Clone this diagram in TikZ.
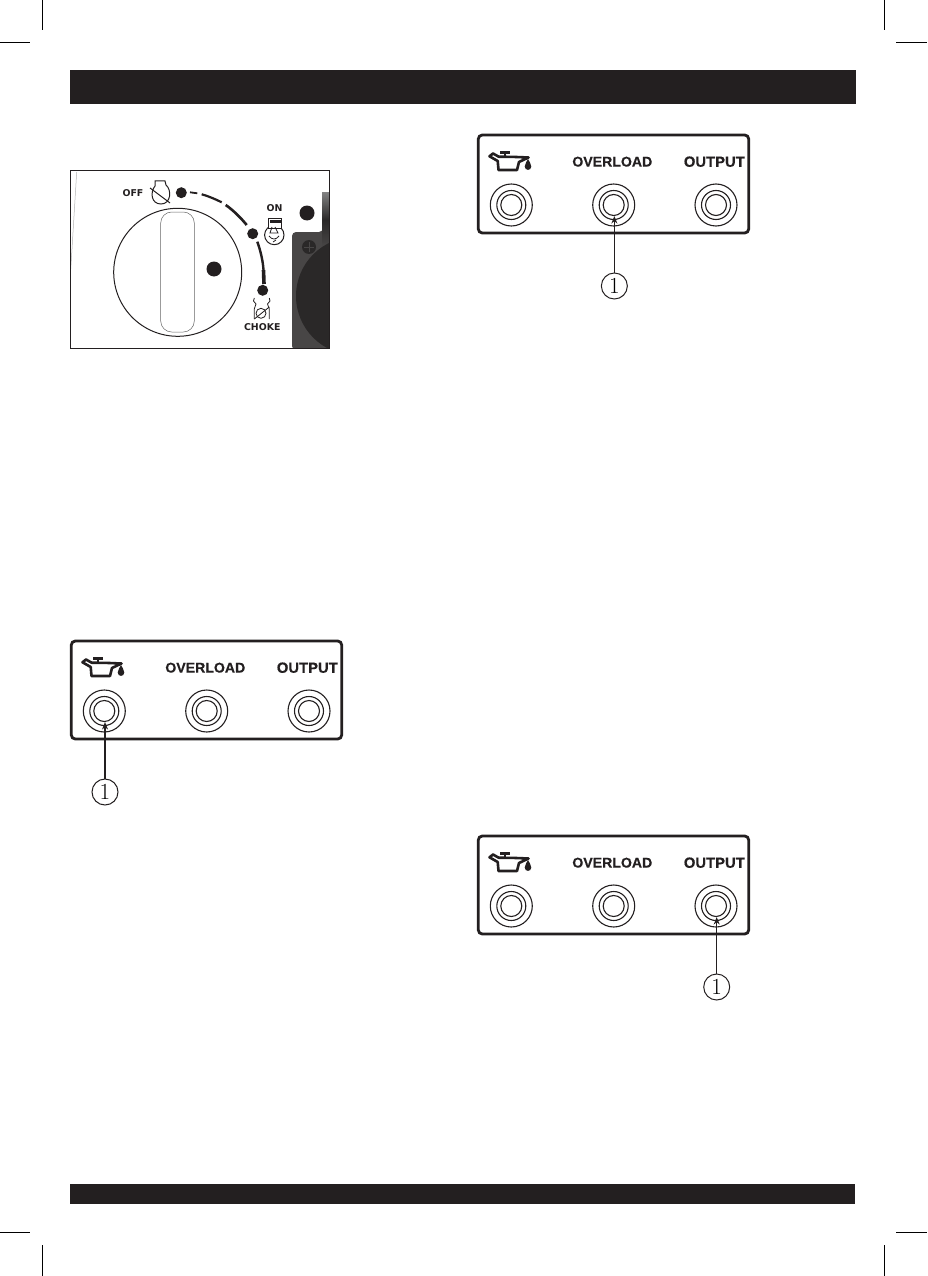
\documentclass[tikz,border=0pt]{standalone}
\usepackage{fontspec}
\usetikzlibrary{arrows.meta, positioning, calc}
\newfontfamily\panelfont{Liberation Sans Bold}[FakeBold=0.5]
\newfontfamily\dialfont{DejaVu Sans}[BoldFont={DejaVu Sans Bold}]
\definecolor{barblack}{RGB}{35, 31, 32}
\definecolor{housegray}{RGB}{72, 70, 70}
\definecolor{housedark}{RGB}{42, 40, 40}
\tikzset{
  cropmark/.style={line width=1pt, black},
  panelbox/.style={line width=2.8pt, draw=barblack, rounded corners=4pt},
  jackring/.style={circle, draw=barblack, line width=1.1pt, inner sep=0pt},
  panellabel/.style={font=\panelfont\fontsize{14.1}{16}\selectfont, text=barblack, inner sep=0pt},
  diallabel/.style={font=\dialfont\bfseries\fontsize{9.4}{11}\selectfont, text=barblack, inner sep=0pt},
  numtag/.style={circle, draw=barblack, line width=1pt, minimum size=26pt, inner sep=0pt, font=\fontsize{23}{25}\selectfont},
  dialdot/.style={circle, fill=barblack, inner sep=0pt},
  icon/.style={draw=barblack, line width=1pt}
}
\begin{document}
\begin{tikzpicture}[x=1pt, y=-1pt]
\useasboundingbox (0,0) rectangle (927,1276);

% Crop marks
\foreach \mx in {42.5,884.5} {
  \draw[cropmark] (\mx,0) -- (\mx,30);
  \draw[cropmark] (\mx,1245) -- (\mx,1276);
}
\foreach \my in {42.5,1232} {
  \draw[cropmark] (0,\my) -- (30,\my);
  \draw[cropmark] (896,\my) -- (927,\my);
}

% Header and footer bars
\fill[barblack] (70,70) rectangle (856,104);
\fill[barblack] (70,1184) rectangle (855,1204);

% Engine switch panel
\begin{scope}
\clip (70,171) rectangle (329,348);
\draw[gray!60, line width=0.5pt] (76.7,172) -- (70.7,270);
\fill[housegray, rounded corners=4pt] (292,350) -- (292,232) -- (323,232) -- (323,200) -- (340,200) -- (340,350) -- cycle;
\shade[top color=gray, bottom color=housegray, middle color=housedark] (322,193) rectangle (329,247);
\fill[housedark] (355,296) circle (59);
\fill[housedark] (309,247) circle (7);
\draw[housegray, line width=0.8pt] (304,247) -- (314,247) (309,242) -- (309,252);
\end{scope}
\draw[barblack, line width=1pt] (70,171) rectangle (329,348);

% Dial
\draw[barblack, line width=1pt] (177.7,272.3) circle (64);
\draw[gray!80!black, line width=0.5pt, rounded corners=11pt] (160.7,212) rectangle (194.3,332);
\node[dialdot, minimum size=15pt] (dialmark) at (214,269) {};
\node[dialdot, minimum size=15pt] (hole) at (307,213) {};
\node[dialdot, minimum size=11pt] (offdot) at (181.3,192.7) {};
\node[dialdot, minimum size=11pt] (ondot) at (252.7,233.7) {};
\node[dialdot, minimum size=11pt] (chokedot) at (262.7,290.3) {};

% Dial track
\draw[barblack, line width=1.8pt] (190,192.3) -- (197.3,193.3);
\draw[barblack, line width=2.2pt] (201.7,194.3) .. controls (208,196) and (215,199) .. (221.7,202.3);
\draw[barblack, line width=2.6pt] (225.7,205) .. controls (233,210) and (241,218) .. (246.7,225);
\draw[barblack, line width=2.4pt] (257.3,241.7) .. controls (261,252) and (263,262) .. (263.5,270);
\draw[barblack, line width=3.6pt] (263.5,270) -- (264,284);

% Switch labels and icons
\node[diallabel] (offlabel) at (133,193.5) {OFF};
\node[diallabel] (onlabel) at (274.5,208) {ON};
\node[diallabel] (chokelabel) at (262.3,326.7) {CHOKE};
\draw[icon] (155,181) -- (165,181) -- (166,185) .. controls (172,190) and (171,204) .. (161,204) .. controls (151,204) and (150,192) .. (155,186) -- cycle;
\draw[icon] (150,188) -- (170,203);
\draw[icon, fill=white] (274.3,235) circle (9.7);
\draw[icon, fill=white] (268.3,218.3) rectangle (281.7,228);
\fill[barblack] (269.5,219.5) rectangle (280.5,222.5);
\draw[icon, line width=0.8pt] (272,227) -- (270,233) -- (278,233) -- (275,227) (269,236) .. controls (272,240) and (276,240) .. (279,236) (276,240) -- (273,242);
\draw[icon, line width=0.8pt] (254.3,298) -- (253.5,301) -- (256,304) -- (254.3,309) -- (254.3,319);
\draw[icon, line width=0.8pt] (269.3,298) -- (270,301) -- (267.5,304) -- (269.3,309) -- (269.3,319);
\draw[icon, line width=0.8pt] (261,313.3) ellipse (5 and 5);
\draw[icon, line width=0.8pt] (254.3,319) -- (269.3,307);

% Indicator panels
\foreach \px/\py/\tag/\lit in {0/0/oil/1, 407/-506/load/2, 407/195/out/3} {
\begin{scope}[shift={(\px,\py)}]
  \draw[panelbox] (71.3,641) rectangle (341.7,739);
  % Oil can
  \draw[barblack, line width=2.6pt, line join=round] (82.5,662.3) -- (86,659.5) -- (91.7,662.7) -- (106.7,662.9) -- (121.5,663.5) -- (112,668) -- (110,676) -- (91.5,676) -- (90.7,667) -- cycle;
  \draw[barblack, line width=2.4pt] (93,658.5) -- (103,658.5) (98,658.5) -- (98,663);
  \fill[barblack] (121,665) .. controls (122,668) and (124.3,669) .. (124.3,672.5) .. controls (124.3,677) and (117.7,677) .. (117.7,672.5) .. controls (117.7,669) and (120,668) .. (121,665) -- cycle;
  \node[panellabel] (\tag-load) at (205.3,667.7) {OVERLOAD};
  \node[panellabel, font=\panelfont\fontsize{14.8}{16}\selectfont] (\tag-out) at (307.3,667.7) {OUTPUT};
  % Lamps
  \foreach \jx/\j in {104.3/1, 206.7/2, 309/3} {
    \node[jackring, minimum size=42pt] (\tag-outer\j) at (\jx,711) {};
    \node[jackring, minimum size=29pt] (\tag-mid\j) at (\jx,711) {};
    \node[jackring, minimum size=21pt] (\tag-lamp\j) at (\jx,711) {};
  }
  \node[numtag] (\tag-num) at ($(\lit*102.35-102.35+105,792)$) {1};
  \draw[barblack, line width=1.2pt, -{Stealth[length=7.5pt,width=6pt]}] (\tag-num.north) -- (\tag-num.north |- \tag-lamp\lit.south);
\end{scope}
}
\end{tikzpicture}
\end{document}
